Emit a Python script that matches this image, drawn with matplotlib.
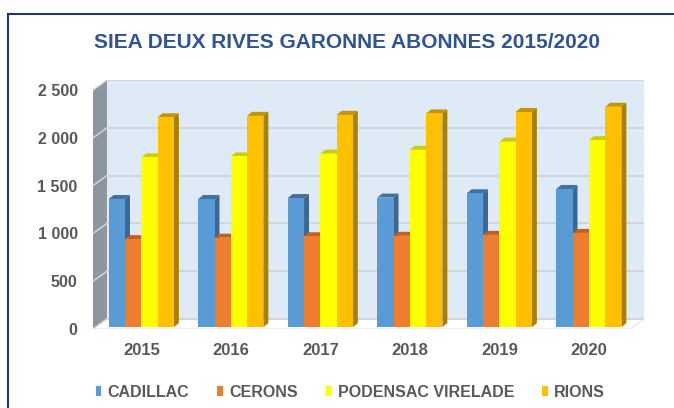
import matplotlib.pyplot as plt
from matplotlib.patches import Polygon, Rectangle, Patch
from matplotlib.lines import Line2D

plt.rcParams['font.family'] = ['Liberation Sans', 'DejaVu Sans']

# données
years = ['2015', '2016', '2017', '2018', '2019', '2020']
cadillac = [1340, 1340, 1350, 1355, 1400, 1445]
cerons = [920, 935, 950, 955, 965, 985]
podensac = [1775, 1785, 1815, 1855, 1940, 1955]
rions = [2195, 2210, 2220, 2235, 2250, 2305]
series_names = ['CADILLAC', 'CERONS', 'PODENSAC VIRELADE', 'RIONS']
y_ticks = [0, 500, 1000, 1500, 2000, 2500]
y_tick_labels = ['0', '500', '1 000', '1 500', '2 000', '2 500']

# couleurs : face avant, côté, dessus
colors_front = ['#5B9BD5', '#ED7D31', '#FFFF00', '#FFC000']
colors_side = ['#3B6792', '#B25E25', '#BFBF00', '#AA8000']
colors_top = ['#41719C', '#C4601E', '#CCCC00', '#C49400']

# effet 3D (profondeur des murs et des barres)
x0, x1 = -0.54, 5.46
wall_dx, wall_dy = 0.156, 105
bar_dx, bar_dy = 0.055, 42
bar_w = 0.182
lift = 20  # les barres sont posées un peu en retrait sur le sol
ymax = y_ticks[-1]

fig = plt.figure(figsize=(6.74, 4.08), dpi=100)
ax = fig.add_axes([93 / 674, 79 / 408, 551 / 674, 249 / 408])
ax.set_xlim(x0, x1 + wall_dx)
ax.set_ylim(0, ymax + wall_dy)

# mur du fond
ax.add_patch(Rectangle((x0 + wall_dx, wall_dy), x1 - x0, ymax,
                       facecolor='#DEEBF7', edgecolor='none', zorder=0))
# mur de gauche
ax.add_patch(Polygon([(x0, 0), (x0 + wall_dx, wall_dy), (x0 + wall_dx, ymax + wall_dy), (x0, ymax)],
                     closed=True, facecolor='#8C969F', edgecolor='none', zorder=0))
# sol
ax.add_patch(Polygon([(x0, 0), (x1, 0), (x1 + wall_dx, wall_dy), (x0 + wall_dx, wall_dy)],
                     closed=True, facecolor='white', edgecolor='#E3E3E3', lw=0.8, zorder=0))

# quadrillage
for v in y_ticks:
    ax.plot([x0 + wall_dx, x1 + wall_dx], [v + wall_dy, v + wall_dy], color='#D0D0D0', lw=1.2, zorder=1)
    ax.plot([x0, x0 + wall_dx], [v, v + wall_dy], color='#D9D9D9', lw=1.0, zorder=1)

# barres
data = [cadillac, cerons, podensac, rions]
for k, vals in enumerate(data):
    xs = [i + (k - 1.5) * bar_w for i in range(len(years))]
    ax.bar(xs, vals, width=bar_w, bottom=lift, color=colors_front[k], zorder=4 + 2 * k)
    for xc, h in zip(xs, vals):
        xl, xr = xc - bar_w / 2, xc + bar_w / 2
        top = h + lift
        ax.add_patch(Polygon([(xr, lift), (xr + bar_dx, lift + bar_dy), (xr + bar_dx, top + bar_dy), (xr, top)],
                             closed=True, facecolor=colors_side[k], edgecolor='none', zorder=3 + 2 * k))
        ax.add_patch(Polygon([(xl, top), (xr, top), (xr + bar_dx, top + bar_dy), (xl + bar_dx, top + bar_dy)],
                             closed=True, facecolor=colors_top[k], edgecolor='none', zorder=3 + 2 * k))

ax.set_xticks(range(len(years)))
ax.set_xticklabels(years, fontsize=12, fontweight='bold', color='#595959')
ax.set_yticks(y_ticks)
ax.set_yticklabels(y_tick_labels, fontsize=11.5, fontweight='bold', color='#595959')
ax.tick_params(axis='x', length=0, pad=10)
ax.tick_params(axis='y', length=0, pad=11)
for s in ax.spines.values():
    s.set_visible(False)
ax.patch.set_visible(False)

fig.text(0.515, 0.897, 'SIEA DEUX RIVES GARONNE ABONNES 2015/2020', ha='center', va='center',
         fontsize=15, fontweight='bold', color='#2F5496')

handles = [Patch(facecolor=c, edgecolor='none') for c in colors_front]
fig.legend(handles, series_names, loc='center', bbox_to_anchor=(0.52, 0.039), ncol=4, frameon=False,
           handlelength=0.35, handleheight=0.65, handletextpad=0.4, columnspacing=1.75,
           prop={'size': 11.5, 'weight': 'bold'}, labelcolor='#595959')

# cadre
fig.add_artist(Line2D([8 / 674, 1], [1 - 14 / 408, 1 - 14 / 408], color='#1F3864', lw=1.5))
fig.add_artist(Line2D([8 / 674, 8 / 674], [0, 1 - 14 / 408], color='#1F3864', lw=1.5))

fig.savefig('out.png', dpi=100)
